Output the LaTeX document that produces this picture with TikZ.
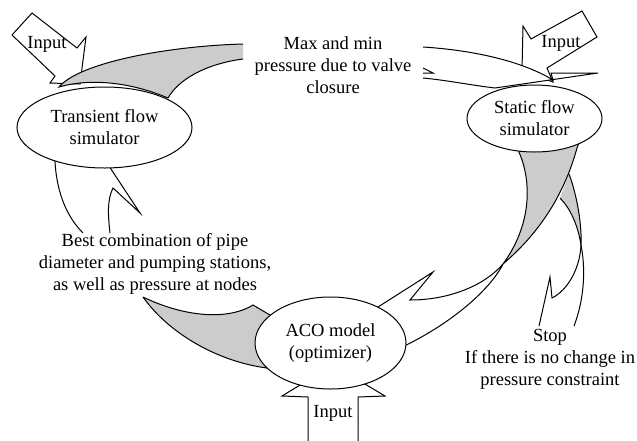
\documentclass[tikz,border=0pt]{standalone}
\usepackage{fontspec}
\setmainfont{Liberation Serif}
\usetikzlibrary{shapes.geometric}
\colorlet{foldgrey}{black!20}

\begin{document}
\begin{tikzpicture}[x=1pt,y=-1pt,line width=1pt,
  every node/.style={font=\fontsize{18.5}{22}\selectfont},
  proc/.style={ellipse,draw,fill=white,inner sep=0pt,align=center},
  inarrow/.style={draw,fill=white},
  fold/.style={draw,fill=foldgrey},
  band/.style={draw,fill=white}]
\useasboundingbox (0,0) rectangle (637,440);
\clip (0,0) rectangle (637,440);
% input arrows
\draw[inarrow] (32,13) -- (77,48) -- (86,37) -- (80,84) -- (50,83) -- (55,76) -- (12,35) -- cycle;
\draw[inarrow] (582,11) -- (531,39) -- (523,26) -- (522,70) -- (553,82) -- (547,68) -- (597,37) -- cycle;
\draw[inarrow] (308,445) -- (308,397) -- (282,396) -- (333,365) -- (385,396) -- (358,397) -- (358,445);
% transient -> static
\draw[fold] (243,44) .. controls (170,46) and (80,62) .. (59,87)
  .. controls (90,78) and (130,82) .. (168,98)
  .. controls (178,80) and (205,64) .. (243,59);
\draw[band] (423,47) .. controls (470,50) and (520,60) .. (553,80) -- (551,73) -- (598,73)
  -- (495,88) .. controls (470,85) and (445,80) .. (423,78);
\draw (423,68) -- (433,73) -- (423,73);
% aco -> transient
\draw[fold] (143,297) .. controls (180,315) and (225,322) .. (253,305) -- (275,318)
  -- (275,366) -- (267,368) .. controls (220,362) and (170,335) .. (143,297);
\draw[band] (52,140) -- (55,162) .. controls (57,195) and (68,218) .. (83,233)
  (110,233) .. controls (108,215) and (107,200) .. (113,188) -- (140,213) -- (105,160);
% static -> stop
\draw[fold] (569,174) .. controls (577,195) and (582,225) .. (581,245)
  .. controls (578,225) and (570,208) .. (560,198);
\draw (581,245) .. controls (586,270) and (584,300) .. (574,326);
\draw (539,326) -- (550,277) -- (552,298) .. controls (568,290) and (580,268) .. (581,245);
% static -> aco
\draw[fold] (516,140) -- (518,150) .. controls (530,175) and (535,220) .. (503,264)
  .. controls (525,245) and (560,210) .. (577,148) -- (580,140);
\draw[band] (503,264) .. controls (485,285) and (450,300) .. (410,300) -- (433,272)
  -- (378,307) -- (380,340) -- (398,349) .. controls (450,325) and (490,290) .. (503,264);
% processes
\node[proc,minimum width=175pt,minimum height=81pt] (transient) at (104.5,127.5) {Transient flow\\simulator};
\node[proc,minimum width=135pt,minimum height=67pt] (static) at (534.5,118.5) {Static flow\\simulator};
\node[proc,minimum width=151pt,minimum height=92pt] (aco) at (330.5,343) {ACO model\\(optimizer)};
% labels
\node[align=center] (maxmin) at (333,65) {Max and min\\pressure due to valve\\closure};
\node[align=center] (best) at (155,264) {Best combination of pipe\\diameter and pumping stations,\\as well as pressure at nodes};
\node[align=center] (stop) at (550,359) {Stop\\If there is no change in\\pressure constraint};
\node (inTL) at (47,44) {Input};
\node (inTR) at (561,43) {Input};
\node (inB) at (333,413) {Input};
\end{tikzpicture}
\end{document}
